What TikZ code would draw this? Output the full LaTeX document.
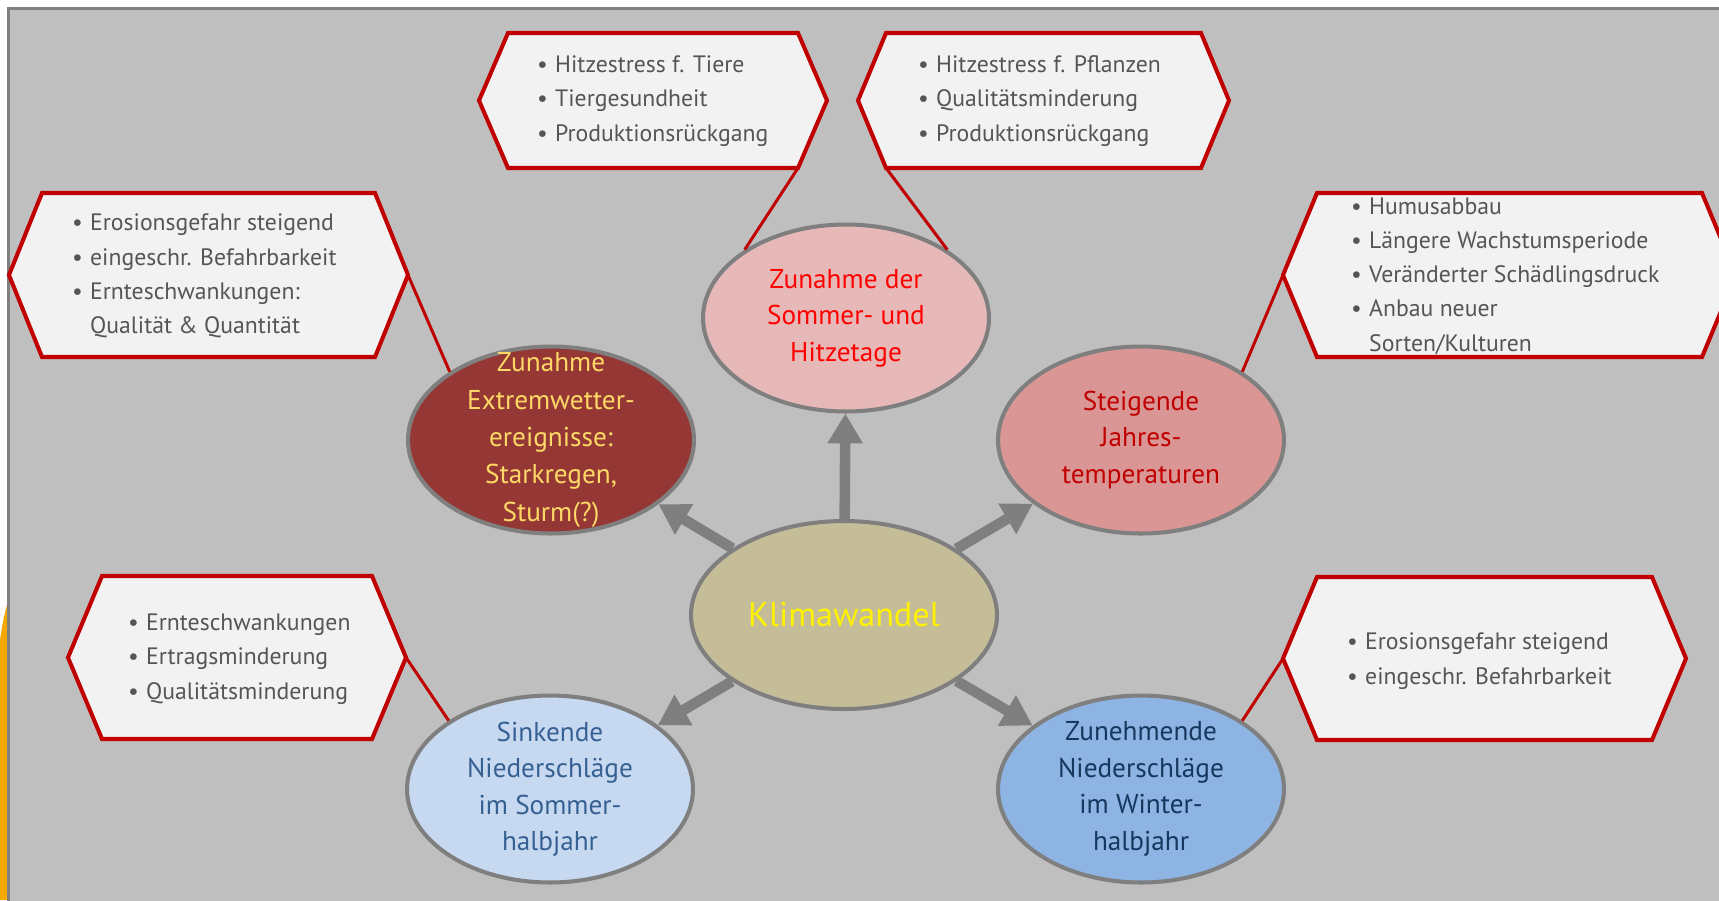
\documentclass[tikz,border=0pt]{standalone}
\usepackage{fontspec}
\setmainfont{PT Sans}
\usetikzlibrary{arrows.meta,shapes.geometric}
\definecolor{bggray}{HTML}{BFBFBF}
\definecolor{framegray}{HTML}{808080}
\definecolor{rimgray}{HTML}{7F7F7F}
\definecolor{hexred}{HTML}{C00000}
\definecolor{hexfill}{HTML}{F2F2F2}
\definecolor{txtgray}{HTML}{555555}
\definecolor{sideorange}{HTML}{F5A800}
\definecolor{klimafill}{HTML}{C4BD97}
\definecolor{hitzefill}{HTML}{E6B9B8}
\definecolor{extfill}{HTML}{953735}
\definecolor{exttext}{HTML}{FFD966}
\definecolor{jahrfill}{HTML}{D99694}
\definecolor{sinkfill}{HTML}{C6D9F1}
\definecolor{sinktext}{HTML}{376092}
\definecolor{zunfill}{HTML}{8DB4E2}
\definecolor{zuntext}{HTML}{17375E}
\newcommand{\itm}{\makebox[0.36cm][l]{\textbullet}}
% name, left corner x, right corner x, top y, bottom y, tip depth
\newcommand{\hexbox}[6]{%
  \draw[hexline] (#2,#4) -- (#3,#4) -- ({#3+#6},{(#4+#5)/2}) -- (#3,#5) -- (#2,#5) -- ({#2-#6},{(#4+#5)/2}) -- cycle;
  \coordinate (#1-w) at ({#2-#6},{(#4+#5)/2});
  \coordinate (#1-e) at ({#3+#6},{(#4+#5)/2});
  \coordinate (#1-sw) at (#2,#5);
  \coordinate (#1-se) at (#3,#5);}

\begin{document}
\begin{tikzpicture}[x=0.02cm, y=-0.02cm,
  bubble/.style={ellipse, draw=rimgray, line width=2.3pt, minimum width=5.72cm, minimum height=3.74cm, inner sep=0pt},
  btext/.style={align=center, font=\fontsize{15.5}{20.8}\selectfont},
  hexline/.style={draw=hexred, fill=hexfill, line width=2.3pt, line join=miter},
  hextext/.style={anchor=west, align=left, text=txtgray, font=\fontsize{13.5}{19.5}\selectfont},
  link/.style={draw=hexred, line width=1.7pt},
  pfeil/.style={draw=rimgray, line width=6pt, -{Triangle[length=17pt,width=19pt]}}]
  \useasboundingbox (0,0) rectangle (1719,900);
  \clip (0,0) rectangle (1719,900);
  % background
  \fill[white] (0,0) rectangle (1719,900);
  \fill[sideorange] (0,640) .. controls (2,625) and (5,612) .. (7,605) -- (7,900) -- (0,900) -- cycle;
  \draw[fill=bggray, draw=framegray, line width=1.7pt] (8.5,8.5) rectangle (1740,920);
  % callout boxes
  \hexbox{hA}{42}{375}{193}{357}{33}
  \hexbox{hB}{508}{798}{33}{168}{29}
  \hexbox{hC}{886}{1201}{33}{168}{28}
  \hexbox{hD}{1317}{1702}{193}{357}{34}
  \hexbox{hE}{102}{372}{576}{739}{34}
  \hexbox{hF}{1317}{1652}{577}{740}{34}
  \node[hextext] (tA) at (66,276) {\itm Erosionsgefahr steigend\\\itm eingeschr. Befahrbarkeit\\\itm Ernteschwankungen:\\\hspace*{0.36cm}Qualität \& Quantität};
  \node[hextext] (tB) at (531,101) {\itm Hitzestress f. Tiere\\\itm Tiergesundheit\\\itm Produktionsrückgang};
  \node[hextext] (tC) at (912,101) {\itm Hitzestress f. Pflanzen\\\itm Qualitätsminderung\\\itm Produktionsrückgang};
  \node[hextext] (tD) at (1345,276) {\itm Humusabbau\\\itm Längere Wachstumsperiode\\\itm Veränderter Schädlingsdruck\\\itm Anbau neuer\\\hspace*{0.36cm}Sorten/Kulturen};
  \node[hextext] (tE) at (122,659) {\itm Ernteschwankungen\\\itm Ertragsminderung\\\itm Qualitätsminderung};
  \node[hextext] (tF) at (1341,661) {\itm Erosionsgefahr steigend\\\itm eingeschr. Befahrbarkeit};
  % ellipses
  \node[bubble, fill=klimafill, minimum width=6.12cm, minimum height=3.76cm] (klima) at (844,615) {};
  \node[bubble, fill=hitzefill] (hitze) at (846,318) {};
  \node[bubble, fill=extfill] (ext) at (551,440) {};
  \node[bubble, fill=jahrfill] (jahr) at (1141,440) {};
  \node[bubble, fill=sinkfill] (sink) at (550,789) {};
  \node[bubble, fill=zunfill] (zun) at (1141,789) {};
  \node[btext, text=yellow, font=\fontsize{19.5}{24}\selectfont] (klima-t) at (klima) {Klimawandel};
  \node[btext, text=red] (hitze-t) at (hitze) {Zunahme der\\Sommer- und\\Hitzetage};
  \node[btext, text=exttext, font=\fontsize{15.5}{21.3}\selectfont] (ext-t) at (ext) {Zunahme\\Extremwetter-\\ereignisse:\\Starkregen,\\Sturm(?)};
  \node[btext, text=hexred] (jahr-t) at (jahr) {Steigende\\Jahres-\\temperaturen};
  \node[btext, text=sinktext] (sink-t) at (sink) {Sinkende\\Niederschläge\\im Sommer-\\halbjahr};
  \node[btext, text=zuntext] (zun-t) at (zun) {Zunehmende\\Niederschläge\\im Winter-\\halbjahr};
  % links to callouts
  \draw[link] (hA-e) -- (ext.146);
  \draw[link] (hB-se) -- (hitze.146);
  \draw[link] (hC-sw) -- (hitze.34);
  \draw[link] (hD-w) -- (jahr.34);
  \draw[link] (hE-e) -- (sink.146);
  \draw[link] (hF-w) -- (zun.34);
  % arrows
  \draw[pfeil] (klima) -- (hitze);
  \draw[pfeil] (klima) -- (ext);
  \draw[pfeil] (klima) -- (jahr);
  \draw[pfeil] (klima) -- (sink);
  \draw[pfeil] (klima) -- (zun);
\end{tikzpicture}
\end{document}
